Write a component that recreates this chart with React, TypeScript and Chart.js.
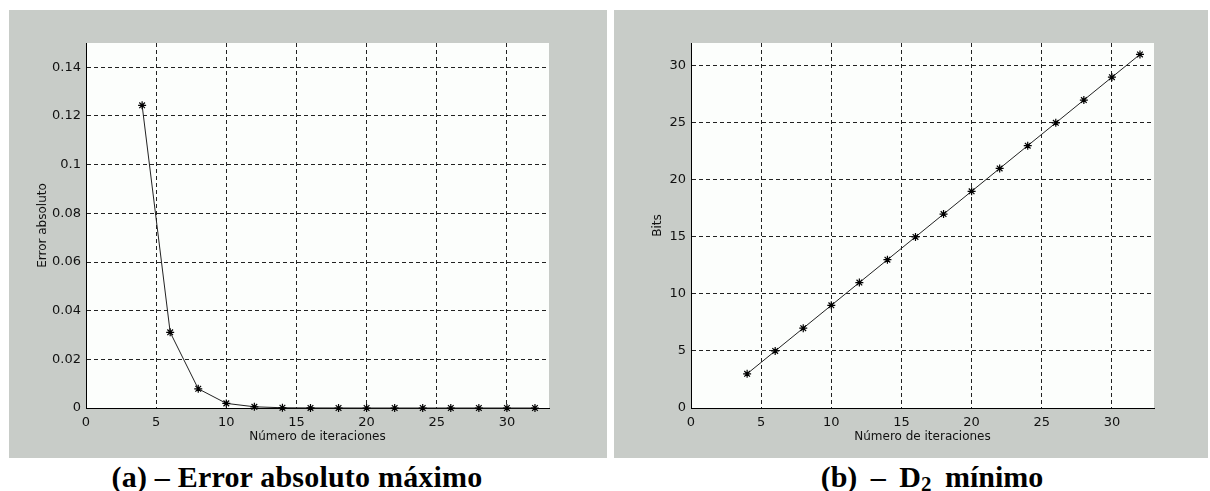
import React, { useEffect, useRef } from "react";
import { Chart, registerables } from "chart.js";

Chart.register(...registerables);

const iterations = [4, 6, 8, 10, 12, 14, 16, 18, 20, 22, 24, 26, 28, 30, 32];
const errorValues = [0.1244, 0.0311, 0.0079, 0.0019, 0.0005, 0.0001, 0.00003, 0.00001, 0, 0, 0, 0, 0, 0, 0];
const bitsValues = [3, 5, 7, 9, 11, 13, 15, 17, 19, 21, 23, 25, 27, 29, 31];

const xTitle = "Número de iteraciones";
const yTitleA = "Error absoluto";
const yTitleB = "Bits";
const captionA = "(a) – Error absoluto máximo";

const PANEL_BG = "rgb(200,204,200)";
const PLOT_BG = "rgb(252,254,252)";
const TICK_FONT = { family: "'DejaVu Sans', sans-serif", size: 13 };
const TITLE_FONT = { family: "'DejaVu Sans', sans-serif", size: 12 };

const plotBgPlugin = {
  id: "plotBg",
  beforeDraw(chart: any) {
    const { ctx, chartArea } = chart;
    ctx.save();
    ctx.fillStyle = PLOT_BG;
    ctx.fillRect(chartArea.left, chartArea.top, chartArea.right - chartArea.left, chartArea.bottom - chartArea.top);
    ctx.restore();
  },
};

function fmt(v: number) {
  return String(+Number(v).toFixed(4));
}

type PanelProps = {
  width: number;
  height: number;
  values: number[];
  yMax: number;
  yStep: number;
  yTitle: string;
  yTitlePad: number;
  rightPad: number;
};

function Panel({ width, height, values, yMax, yStep, yTitle, yTitlePad, rightPad }: PanelProps) {
  const ref = useRef<HTMLCanvasElement | null>(null);
  useEffect(() => {
    if (!ref.current) return;
    const chart = new Chart(ref.current, {
      type: "line",
      data: {
        datasets: [
          {
            data: iterations.map((x, i) => ({ x, y: values[i] })),
            borderColor: "#222",
            borderWidth: 1,
            pointStyle: "star",
            pointRadius: 4,
            pointBorderWidth: 1.2,
            pointBorderColor: "#000",
            pointBackgroundColor: "#000",
            tension: 0,
            clip: false,
          } as any,
        ],
      },
      options: {
        responsive: false,
        animation: false,
        devicePixelRatio: 1,
        layout: { padding: { top: 33, right: rightPad, left: 0, bottom: 0 } },
        plugins: { legend: { display: false }, tooltip: { enabled: false } },
        scales: {
          x: {
            type: "linear",
            min: 0,
            max: 33,
            afterFit(scale: any) {
              scale.height = 50;
            },
            ticks: {
              stepSize: 5,
              includeBounds: false,
              padding: 7,
              color: "#111",
              font: TICK_FONT,
              maxRotation: 0,
              callback: (v: any) => fmt(v),
            },
            grid: { color: "#222", lineWidth: 1, drawTicks: false },
            border: { display: true, color: "#000", width: 1, dash: [4, 3] },
            title: {
              display: true,
              text: xTitle,
              color: "#111",
              font: TITLE_FONT,
              padding: { top: 0, bottom: 14 },
            },
          },
          y: {
            type: "linear",
            min: 0,
            max: yMax,
            afterFit(scale: any) {
              scale.width = 77;
            },
            ticks: {
              stepSize: yStep,
              includeBounds: false,
              padding: 5,
              color: "#111",
              font: TICK_FONT,
              callback: (v: any) => fmt(v),
            },
            grid: { color: "#222", lineWidth: 1, drawTicks: false },
            border: { display: true, color: "#000", width: 1, dash: [4, 3] },
            title: {
              display: true,
              text: yTitle,
              color: "#111",
              font: TITLE_FONT,
              padding: { top: yTitlePad, bottom: 0 },
            },
          },
        },
      },
      plugins: [plotBgPlugin],
    } as any);
    return () => chart.destroy();
  }, []);
  return <canvas ref={ref} width={width} height={height} style={{ display: "block", width, height }} />;
}

export default function App() {
  return (
    <div style={{ position: "absolute", left: 0, top: 0, width: 1210, height: 491, background: "#fff", overflow: "hidden" }}>
      <div style={{ position: "absolute", left: 9, top: 10, width: 598, height: 448, background: PANEL_BG }}>
        <Panel width={598} height={448} values={errorValues} yMax={0.15} yStep={0.02} yTitle={yTitleA} yTitlePad={27} rightPad={58} />
      </div>
      <div style={{ position: "absolute", left: 614, top: 10, width: 594, height: 448, background: PANEL_BG }}>
        <Panel width={594} height={448} values={bitsValues} yMax={32} yStep={5} yTitle={yTitleB} yTitlePad={37} rightPad={54} />
      </div>
      <div
        style={{
          position: "absolute",
          left: 297 - 250,
          width: 500,
          top: 462,
          textAlign: "center",
          font: "bold 30px 'Liberation Serif', 'Times New Roman', serif",
          lineHeight: "30px",
          letterSpacing: "0.2px",
          color: "#000",
          whiteSpace: "nowrap",
        }}
      >
        {captionA}
      </div>
      <div
        style={{
          position: "absolute",
          left: 932 - 250,
          width: 500,
          top: 462,
          textAlign: "center",
          font: "bold 30px 'Liberation Serif', 'Times New Roman', serif",
          lineHeight: "30px",
          wordSpacing: "6px",
          color: "#000",
          whiteSpace: "nowrap",
        }}
      >
        (b) – D<sub style={{ fontSize: "21px", verticalAlign: "-4px", lineHeight: 0 }}>2</sub> mínimo
      </div>
    </div>
  );
}
